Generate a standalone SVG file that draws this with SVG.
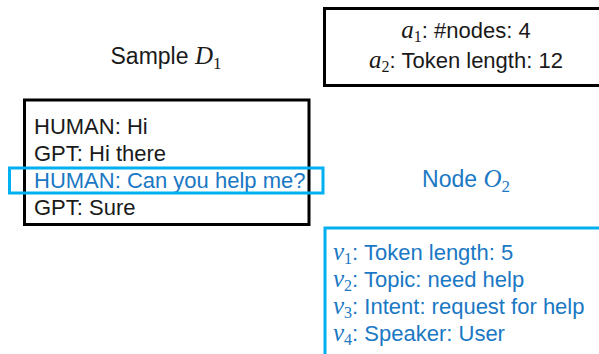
<svg xmlns="http://www.w3.org/2000/svg" width="599" height="354" viewBox="0 0 599 354">
<style>
.t{font-family:"Liberation Sans","Noto Sans",Arial,sans-serif;font-size:22px;fill:#1a1a1a}
.b{fill:#1a78c4}
.m{font-family:"Liberation Serif","DejaVu Serif",serif;font-style:italic;font-size:25px}
.s{font-family:"Liberation Serif","DejaVu Serif",serif;font-size:16px}
.k{fill:none;stroke:#000;stroke-width:3}
.c{fill:none;stroke:#00b0f0;stroke-width:3}
</style>
<rect width="599" height="354" fill="#fff"/>
<g id="sample-title">
<text class="t" x="166" y="64" text-anchor="middle" style="font-size:23px">Sample <tspan class="m" style="font-size:25px">D</tspan><tspan class="s" dy="5" style="font-size:17px">1</tspan></text>
</g>
<g id="graph-attrs">
<rect class="k" x="324.5" y="8.5" width="290" height="77"/>
<text class="t" x="466" y="38" text-anchor="middle"><tspan class="m">a</tspan><tspan class="s" dy="4">1</tspan><tspan dy="-4">: #nodes: 4</tspan></text>
<text class="t" x="466" y="68" text-anchor="middle"><tspan class="m">a</tspan><tspan class="s" dy="4">2</tspan><tspan dy="-4">: Token length: 12</tspan></text>
</g>
<g id="sample-box">
<rect class="k" x="24.5" y="100" width="284.5" height="124.5"/>
<text class="t" x="34" y="134">HUMAN: Hi</text>
<text class="t" x="34" y="161">GPT: Hi there</text>
<text class="t b" x="34" y="188">HUMAN: Can you help me?</text>
<text class="t" x="34" y="215">GPT: Sure</text>
</g>
<g id="highlight">
<rect class="c" x="9.5" y="168" width="313.5" height="25"/>
</g>
<g id="node-title">
<text class="t b" x="466" y="187" text-anchor="middle" style="font-size:23px">Node <tspan class="m" style="font-size:25px">O</tspan><tspan class="s" dy="5" style="font-size:17px">2</tspan></text>
</g>
<g id="node-attrs">
<rect class="c" x="325" y="228" width="290" height="140"/>
<text class="t b" x="333" y="260"><tspan class="m">v</tspan><tspan class="s" dy="4">1</tspan><tspan dy="-4">: Token length: 5</tspan></text>
<text class="t b" x="333" y="287"><tspan class="m">v</tspan><tspan class="s" dy="4">2</tspan><tspan dy="-4">: Topic: need help</tspan></text>
<text class="t b" x="333" y="314"><tspan class="m">v</tspan><tspan class="s" dy="4">3</tspan><tspan dy="-4">: Intent: request for help</tspan></text>
<text class="t b" x="333" y="341"><tspan class="m">v</tspan><tspan class="s" dy="4">4</tspan><tspan dy="-4">: Speaker: User</tspan></text>
</g>
<g id="connectors"></g>
</svg>
